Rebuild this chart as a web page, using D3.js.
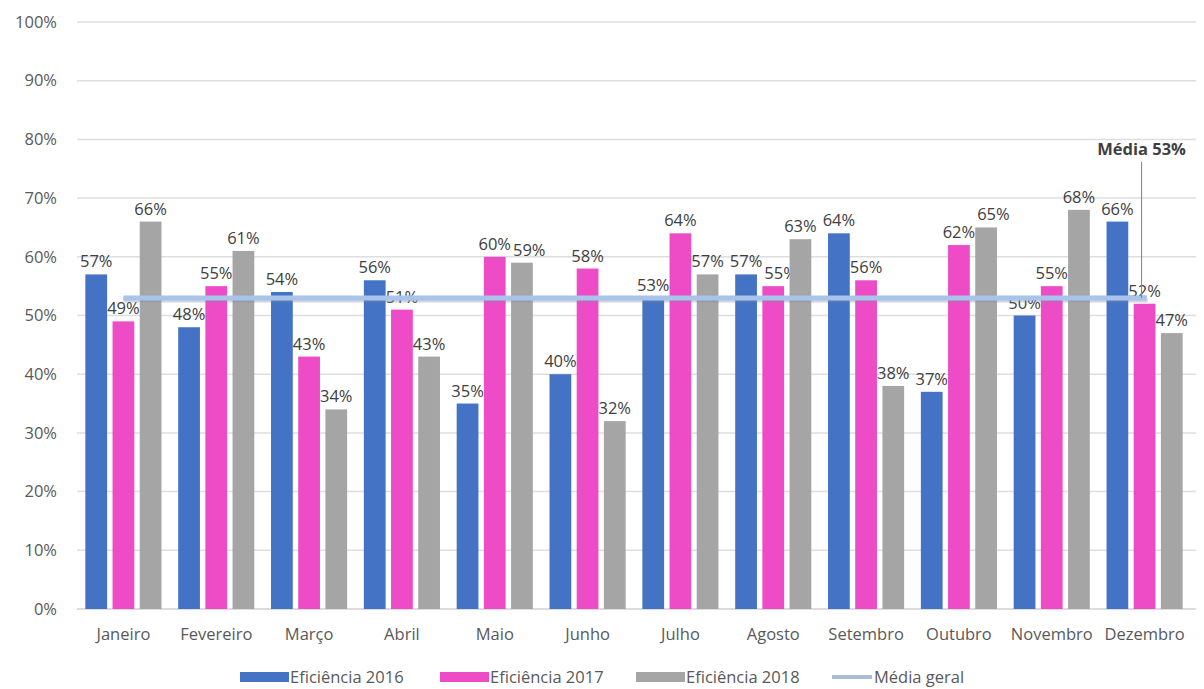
<!DOCTYPE html>
<html>
<head>
<meta charset="utf-8">
<script src="https://cdn.jsdelivr.net/npm/d3@7"></script>
<style>
  body { margin: 0; background: #fff; }
  text { font-family: "Open Sans", "Noto Sans", sans-serif; }
</style>
</head>
<body>
<div id="canvas"></div>
<script>
const months = ["Janeiro","Fevereiro","Março","Abril","Maio","Junho","Julho","Agosto","Setembro","Outubro","Novembro","Dezembro"];
const ef2016 = [57,48,54,56,35,40,53,57,64,37,50,66];
const ef2017 = [49,55,43,51,60,58,64,55,56,62,55,52];
const ef2018 = [66,61,34,43,59,32,57,63,38,65,68,47];
const mediaGeral = 53;
const yTicks = [0,10,20,30,40,50,60,70,80,90,100];

const seriesNames = ["Eficiência 2016","Eficiência 2017","Eficiência 2018"];
const colors = ["#4472C4","#EE4BC6","#A5A5A5"];
const series = [ef2016, ef2017, ef2018];

const width = 1204, height = 689;
const margin = {top: 22, left: 77, bottom: 80, right: 13};
const iwidth = width - margin.left - margin.right;
const iheight = height - margin.top - margin.bottom;
const fs = 16.5;

const svg = d3.select("#canvas").append("svg")
  .attr("width", width).attr("height", height);

const g = svg.append("g").attr("transform", `translate(${margin.left},${margin.top})`);

const y = d3.scaleLinear().domain([0, 100]).range([iheight, 0]);
const x = d3.scaleBand().domain(months).range([0, iwidth]).paddingInner(0.18).paddingOuter(0.09);
const xs = d3.scaleBand().domain(d3.range(3)).range([0, x.bandwidth()]).paddingInner(0.2);

// gridlines
g.append("g").selectAll("line").data(yTicks).enter().append("line")
  .attr("x1", 0).attr("x2", iwidth + 5)
  .attr("y1", d => y(d)).attr("y2", d => y(d))
  .attr("stroke", d => d === 0 ? "#d0d0d0" : "#dedede").attr("stroke-width", 1.5);

// y axis labels
const yAxis = g.append("g").call(d3.axisLeft(y).tickValues(yTicks).tickFormat(d => d + "%").tickSize(0));
yAxis.select(".domain").remove();
yAxis.selectAll("text").attr("font-size", fs).attr("fill", "#595959").attr("x", -20);

// x axis labels
const xAxis = g.append("g").attr("transform", `translate(0,${iheight})`)
  .call(d3.axisBottom(x).tickSize(0).tickPadding(19));
xAxis.select(".domain").remove();
xAxis.selectAll("text").attr("font-size", fs).attr("fill", "#595959");

// bars
const labels = [];
series.forEach((vals, si) => {
  const grp = g.append("g");
  grp.selectAll("rect").data(vals).enter().append("rect")
    .attr("x", (d, i) => x(months[i]) + xs(si))
    .attr("y", d => y(d))
    .attr("width", xs.bandwidth())
    .attr("height", d => iheight - y(d))
    .attr("fill", colors[si]);
  labels[si] = grp.selectAll("text").data(vals).enter().append("text")
    .attr("x", (d, i) => x(months[i]) + xs(si) + xs.bandwidth() / 2)
    .attr("y", d => y(d) - 7)
    .attr("text-anchor", "middle")
    .attr("font-size", fs).attr("fill", "#404040")
    .text(d => d + "%");
});

// nudge a label right when it collides with its left neighbour (as Excel does)
months.forEach((m, i) => {
  for (let si = 1; si < 3; si++) {
    const left = labels[si - 1].nodes()[i].getBBox();
    const node = labels[si].nodes()[i];
    const b = node.getBBox();
    const vOverlap = b.y < left.y + left.height - 4 && left.y < b.y + b.height - 4;
    const hOverlap = left.x + left.width - b.x;
    if (vOverlap && hOverlap > 0) {
      node.setAttribute("x", +node.getAttribute("x") + hOverlap + 2);
    }
  }
});

// mean line
const mx1 = x(months[0]) + x.bandwidth() / 2;
const mx2 = x(months[11]) + x.bandwidth() / 2;
g.append("line")
  .attr("x1", mx1).attr("x2", mx2 + 3)
  .attr("y1", y(mediaGeral) + 2).attr("y2", y(mediaGeral) + 2)
  .attr("stroke", "#7f8ea3").attr("stroke-width", 5).attr("opacity", 0.35);
g.append("line")
  .attr("x1", mx1).attr("x2", mx2 + 2)
  .attr("y1", y(mediaGeral)).attr("y2", y(mediaGeral))
  .attr("stroke", "#A9C4EB").attr("stroke-width", 5);

// annotation
const ax = mx2 - 3;
g.append("line")
  .attr("x1", ax).attr("x2", ax)
  .attr("y1", y(mediaGeral) - 136).attr("y2", y(mediaGeral))
  .attr("stroke", "#808080").attr("stroke-width", 1);
g.append("text")
  .attr("x", ax).attr("y", y(mediaGeral) - 143)
  .attr("text-anchor", "middle")
  .attr("font-size", fs).attr("font-weight", "bold").attr("fill", "#404040")
  .text("Média " + mediaGeral + "%");

// legend
const legendItems = [
  {name: seriesNames[0], color: colors[0], type: "rect", x: 240},
  {name: seriesNames[1], color: colors[1], type: "rect", x: 440},
  {name: seriesNames[2], color: colors[2], type: "rect", x: 636},
  {name: "Média geral", color: "#A9BDD6", type: "line", x: 832}
];
const lg = svg.append("g").attr("transform", "translate(0,677)");
legendItems.forEach(it => {
  if (it.type === "rect") {
    lg.append("rect").attr("x", it.x).attr("y", -5).attr("width", 49).attr("height", 10).attr("fill", it.color);
  } else {
    lg.append("line").attr("x1", it.x).attr("x2", it.x + 40).attr("y1", 0).attr("y2", 0)
      .attr("stroke", it.color).attr("stroke-width", 4);
  }
  lg.append("text").attr("x", it.x + (it.type === "rect" ? 50 : 42)).attr("y", 6)
    .attr("font-size", fs).attr("fill", "#595959").text(it.name);
});
</script>
</body>
</html>
